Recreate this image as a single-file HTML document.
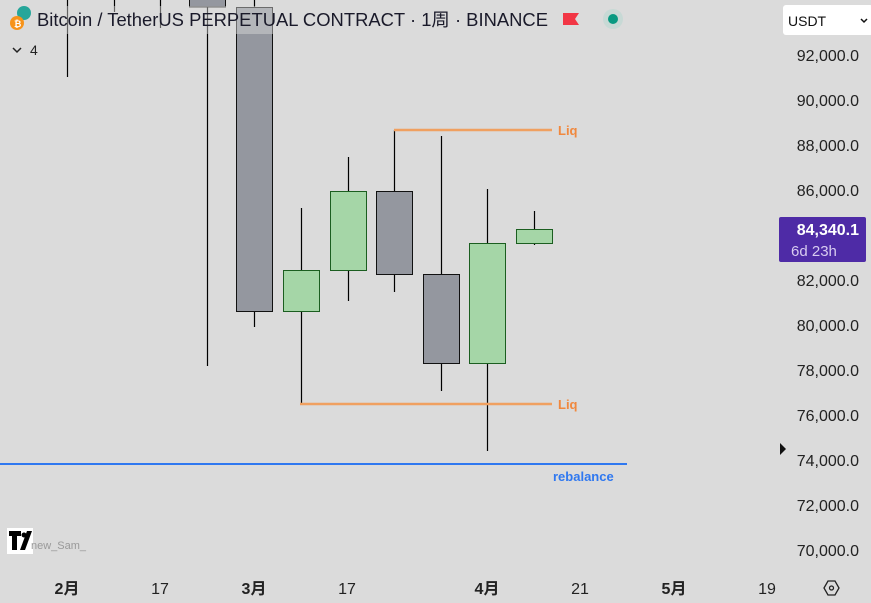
<!DOCTYPE html>
<html><head><meta charset="utf-8"><style>
body{margin:0;width:871px;height:603px;overflow:hidden;background:#dbdbdb;font-family:"Liberation Sans","Noto Sans CJK SC",sans-serif}
</style></head><body>
<svg width="871" height="603" xmlns="http://www.w3.org/2000/svg" style="position:absolute;left:0;top:0">
<g stroke="#000" stroke-width="1.2">
<line x1="67.5" y1="0" x2="67.5" y2="77"/>
<line x1="114.5" y1="0" x2="114.5" y2="12"/>
<line x1="160.5" y1="0" x2="160.5" y2="28"/>
<line x1="207.5" y1="0" x2="207.5" y2="366"/>
<line x1="254.5" y1="0" x2="254.5" y2="327"/>
<line x1="301.5" y1="208" x2="301.5" y2="404"/>
<line x1="348.5" y1="157" x2="348.5" y2="301"/>
<line x1="394.5" y1="130" x2="394.5" y2="292"/>
<line x1="441.5" y1="136" x2="441.5" y2="391"/>
<line x1="487.5" y1="189" x2="487.5" y2="451"/>
<line x1="534.5" y1="211" x2="534.5" y2="245"/>
</g>
<g stroke="#111" stroke-width="1">
<rect x="189.5" y="-2" width="36" height="9" fill="#94979f"/>
<rect x="236.5" y="7.5" width="36" height="304" fill="#94979f"/>
<rect x="283.5" y="270.5" width="36" height="41" fill="#a5d6a7" stroke="#1b5e20"/>
<rect x="330.5" y="191.5" width="36" height="79" fill="#a5d6a7" stroke="#1b5e20"/>
<rect x="376.5" y="191.5" width="36" height="83" fill="#94979f"/>
<rect x="423.5" y="274.5" width="36" height="89" fill="#94979f"/>
<rect x="469.5" y="243.5" width="36" height="120" fill="#a5d6a7" stroke="#1b5e20"/>
<rect x="516.5" y="229.5" width="36" height="14" fill="#a5d6a7" stroke="#1b5e20"/>
</g>
<rect x="4" y="6" width="622" height="28" fill="rgba(220,220,220,0.45)"/>
<line x1="394" y1="130" x2="552" y2="130" stroke="#f0a060" stroke-width="2.5"/>
<line x1="300" y1="404" x2="552" y2="404" stroke="#f0a060" stroke-width="2.5"/>
<text x="558" y="135" font-size="13" font-weight="bold" fill="#f0883e" font-family="Liberation Sans">Liq</text>
<text x="558" y="409" font-size="13" font-weight="bold" fill="#f0883e" font-family="Liberation Sans">Liq</text>
<line x1="0" y1="464" x2="627" y2="464" stroke="#2f78f0" stroke-width="2"/>
<text x="553" y="481" font-size="13" font-weight="bold" fill="#2f78f0" font-family="Liberation Sans">rebalance</text>
<circle cx="24" cy="13" r="7" fill="#26a69a"/>
<circle cx="17" cy="23" r="7" fill="#f7931a"/>
<text x="14" y="27" font-size="9" fill="#fff" font-weight="bold">₿</text>
<text x="37" y="26" font-size="18" fill="#1a1a2a" textLength="511" lengthAdjust="spacingAndGlyphs" font-family="Liberation Sans,'Noto Sans CJK SC',sans-serif">Bitcoin  /  TetherUS PERPETUAL CONTRACT · 1周 · BINANCE</text>
<path d="M563 13h16l-4 6 4 6h-16z" fill="#f23645"/>
<circle cx="613" cy="19" r="10" fill="#c7d9d5"/>
<circle cx="613" cy="19" r="5" fill="#089981"/>
<path d="M13 48l4 4 4-4" stroke="#222" stroke-width="1.5" fill="none"/>
<text x="30" y="55" font-size="14" fill="#222">4</text>
<rect x="783" y="5" width="90" height="30" rx="3" fill="#fff"/>
<text x="788" y="26" font-size="14" fill="#111">USDT</text>
<path d="M861 19l3 3 3-3" stroke="#111" stroke-width="1.5" fill="none"/>
<g font-size="16" fill="#222" text-anchor="end" font-family="Liberation Sans">
<text x="859" y="61">92,000.0</text>
<text x="859" y="106">90,000.0</text>
<text x="859" y="151">88,000.0</text>
<text x="859" y="196">86,000.0</text>
<text x="859" y="286">82,000.0</text>
<text x="859" y="331">80,000.0</text>
<text x="859" y="376">78,000.0</text>
<text x="859" y="421">76,000.0</text>
<text x="859" y="466">74,000.0</text>
<text x="859" y="511">72,000.0</text>
<text x="859" y="556">70,000.0</text>
</g>
<rect x="779" y="217" width="87" height="45" rx="2" fill="#4e2ba6"/>
<text x="859" y="235" font-size="16" font-weight="bold" fill="#fff" text-anchor="end">84,340.1</text>
<text x="791" y="256" font-size="15" fill="#d8ccf0">6d 23h</text>
<path d="M780 443l6 6-6 6z" fill="#111"/>
<g font-size="16" fill="#222" text-anchor="middle" font-family="Liberation Sans,'Noto Sans CJK SC',sans-serif">
<text x="67" y="594" font-weight="bold">2月</text>
<text x="160" y="594">17</text>
<text x="254" y="594" font-weight="bold">3月</text>
<text x="347" y="594">17</text>
<text x="487" y="594" font-weight="bold">4月</text>
<text x="580" y="594">21</text>
<text x="674" y="594" font-weight="bold">5月</text>
<text x="767" y="594">19</text>
</g>
<path d="M824 588l4-7h7l4 7-4 7h-7z" fill="none" stroke="#222" stroke-width="1.3"/>
<circle cx="831.5" cy="588" r="2" fill="none" stroke="#222" stroke-width="1.3"/>
<rect x="7" y="528" width="26" height="26" fill="#fff"/>
<path d="M9 531h12v5h-4v14h-5v-14h-3z" fill="#000"/>
<circle cx="24" cy="535" r="2.5" fill="#000"/>
<path d="M27 531h5l-7 19h-5z" fill="#000"/>
<text x="31" y="549" font-size="11" fill="#999">new_Sam_</text>
</svg>
</body></html>
